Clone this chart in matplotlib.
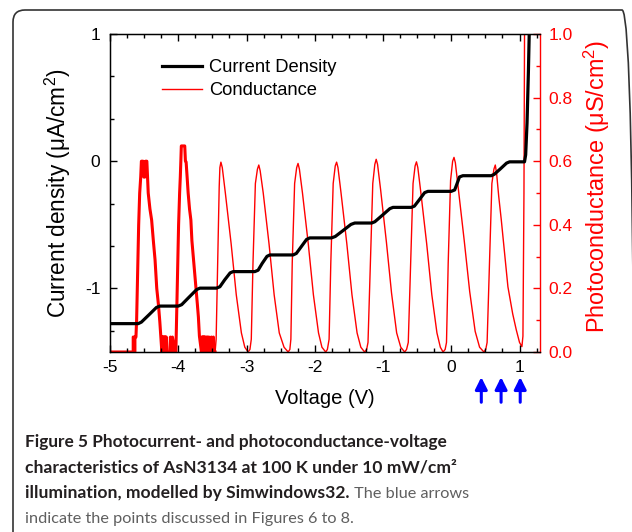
import numpy as np
import matplotlib
matplotlib.use("Agg")
import matplotlib.pyplot as plt
from matplotlib.patches import FancyBboxPatch
from matplotlib.transforms import IdentityTransform
from matplotlib.ticker import MultipleLocator

plt.rcParams['font.family'] = ['Liberation Sans', 'DejaVu Sans']
plt.rcParams['mathtext.fontset'] = 'custom'
plt.rcParams['mathtext.rm'] = 'Liberation Sans'
plt.rcParams['axes.unicode_minus'] = False

# current density (uA/cm^2) vs voltage
cur_v = [-5.00, -4.586, -4.54, -4.43, -4.32, -4.268, -4.00, -3.95, -3.84, -3.73,
         -3.683, -3.44, -3.39, -3.32, -3.24, -3.196, -2.878, -2.83, -2.77, -2.70,
         -2.658, -2.317, -2.27, -2.195, -2.12, -2.073, -1.756, -1.70, -1.585, -1.47,
         -1.414, -1.166, -1.12, -1.01, -0.90, -0.854, -0.585, -0.54, -0.464, -0.39,
         -0.342, 0.0, 0.05, 0.085, 0.12, 0.17, 0.586, 0.63, 0.72, 0.81,
         0.854, 1.073, 1.09, 1.11, 1.13, 1.15]
cur_j = [-1.277, -1.277, -1.265, -1.208, -1.150, -1.139, -1.139, -1.128, -1.068, -1.009,
         -0.998, -0.998, -0.987, -0.933, -0.878, -0.868, -0.868, -0.857, -0.803, -0.748,
         -0.737, -0.737, -0.725, -0.670, -0.615, -0.603, -0.603, -0.592, -0.545, -0.497,
         -0.486, -0.486, -0.476, -0.425, -0.373, -0.363, -0.363, -0.353, -0.300, -0.247,
         -0.237, -0.237, -0.226, -0.176, -0.124, -0.114, -0.114, -0.103, -0.060, -0.015,
         -0.005, -0.005, 0.05, 0.3, 0.7, 1.2]

# photoconductance (uS/cm^2) vs voltage
cond_v = [
    # noisy part, peaks at -4.5 and -3.93
    -5.00, -4.66, -4.66, -4.648, -4.648, -4.635, -4.635, -4.62, -4.61, -4.595,
    -4.58, -4.565, -4.55, -4.54, -4.515, -4.505, -4.49, -4.48, -4.46, -4.45,
    -4.44, -4.415, -4.39, -4.365, -4.34, -4.315, -4.29, -4.27, -4.255, -4.24,
    -4.235, -4.23, -4.225, -4.22, -4.215, -4.21, -4.205, -4.20, -4.195, -4.19,
    -4.185, -4.18, -4.175, -4.165, -4.12, -4.115, -4.09, -4.085, -4.05, -4.035,
    -4.025, -4.01, -3.995, -3.98, -3.97, -3.962, -3.955, -3.905, -3.895, -3.885,
    -3.87, -3.855, -3.835, -3.815, -3.80, -3.78, -3.76, -3.74, -3.72, -3.705,
    -3.69, -3.66, -3.655, -3.65, -3.645, -3.64, -3.635, -3.63, -3.625, -3.62,
    -3.615, -3.61, -3.605, -3.60, -3.59, -3.585, -3.575, -3.57, -3.555, -3.55,
    -3.52, -3.515, -3.49, -3.485, -3.47, -3.465,
    # regular oscillations
    -3.46, -3.445, -3.42, -3.40, -3.39, -3.375, -3.355, -3.31, -3.225, -3.15, -3.075, -3.025, -2.976,
    -2.95, -2.93, -2.905, -2.87, -2.84, -2.82, -2.80, -2.755, -2.67, -2.595, -2.52, -2.45, -2.39,
    -2.365, -2.35, -2.33, -2.295, -2.265, -2.245, -2.225, -2.18, -2.095, -2.02, -1.945, -1.895, -1.84,
    -1.815, -1.79, -1.765, -1.73, -1.70, -1.68, -1.66, -1.615, -1.53, -1.455, -1.38, -1.325, -1.27,
    -1.24, -1.22, -1.185, -1.15, -1.12, -1.10, -1.08, -1.035, -0.95, -0.875, -0.80, -0.74, -0.683,
    -0.655, -0.63, -0.595, -0.56, -0.53, -0.51, -0.49, -0.445, -0.36, -0.285, -0.21, -0.16, -0.12,
    -0.09, -0.07, -0.045, -0.01, 0.02, 0.04, 0.06, 0.105, 0.19, 0.27, 0.35, 0.415, 0.478,
    0.505, 0.525, 0.56, 0.595, 0.625, 0.645, 0.665, 0.695, 0.733, 0.83, 0.90, 0.952, 1.0, 1.035,
    1.05, 1.065, 1.075]
cond_g = [
    0.0, 0.0, 0.047, 0.047, 0.0, 0.0, 0.047, 0.047, 0.10, 0.25,
    0.40, 0.50, 0.55, 0.60, 0.60, 0.55, 0.55, 0.60, 0.60, 0.55,
    0.50, 0.45, 0.415, 0.35, 0.29, 0.20, 0.148, 0.095, 0.047, 0.0,
    0.047, 0.0, 0.047, 0.0, 0.047, 0.0, 0.047, 0.0, 0.047, 0.0,
    0.047, 0.0, 0.047, 0.0, 0.0, 0.047, 0.0, 0.047, 0.0, 0.0,
    0.10, 0.25, 0.40, 0.50, 0.55, 0.60, 0.648, 0.648, 0.60, 0.598,
    0.55, 0.50, 0.45, 0.415, 0.35, 0.30, 0.25, 0.20, 0.15, 0.11,
    0.05, 0.0, 0.047, 0.0, 0.047, 0.0, 0.047, 0.0, 0.047, 0.0,
    0.047, 0.0, 0.047, 0.0, 0.0, 0.047, 0.0, 0.047, 0.0, 0.047,
    0.0, 0.047, 0.0, 0.047, 0.0, 0.0,
    0.0, 0.04, 0.30, 0.52, 0.58, 0.597, 0.58, 0.50, 0.34, 0.18, 0.06, 0.015, 0.0,
    0.008, 0.04, 0.28, 0.53, 0.575, 0.588, 0.57, 0.50, 0.34, 0.18, 0.06, 0.015, 0.0,
    0.008, 0.04, 0.28, 0.53, 0.58, 0.593, 0.575, 0.50, 0.34, 0.18, 0.06, 0.015, 0.0,
    0.008, 0.04, 0.28, 0.53, 0.585, 0.597, 0.58, 0.50, 0.34, 0.18, 0.06, 0.015, 0.0,
    0.008, 0.03, 0.28, 0.53, 0.59, 0.606, 0.59, 0.51, 0.345, 0.185, 0.06, 0.015, 0.0,
    0.008, 0.03, 0.28, 0.53, 0.585, 0.598, 0.58, 0.50, 0.34, 0.18, 0.06, 0.015, 0.0,
    0.008, 0.03, 0.28, 0.54, 0.60, 0.612, 0.595, 0.51, 0.35, 0.19, 0.065, 0.015, 0.0,
    0.008, 0.03, 0.28, 0.53, 0.575, 0.588, 0.56, 0.49, 0.415, 0.205, 0.12, 0.07, 0.03, 0.017,
    0.05, 0.5, 1.1]

arrow_v = [0.44, 0.73, 1.01]

cur_v = np.array(cur_v)
cur_j = np.array(cur_j)
cond_v = np.array(cond_v)
cond_g = np.array(cond_g)

fig = plt.figure(figsize=(6.32, 5.32), dpi=100)
ax = fig.add_axes([110 / 632, 1 - 352 / 532, 430 / 632, 318 / 532])
ax2 = ax.twinx()
ax.set_zorder(ax2.get_zorder() + 1)
ax.patch.set_visible(False)

ax2.plot(cond_v, cond_g, color='red', lw=1.0)
noisy = cond_v <= -3.46
ax2.plot(cond_v[noisy], cond_g[noisy], color='red', lw=2.2)
l1, = ax.plot(cur_v, cur_j, color='black', lw=2.3, label='Current Density')
l2, = ax.plot([], [], color='red', lw=1.0, label='Conductance')

ax.set_xlim(-5, 1.3)
ax.set_ylim(-1.5, 1)
ax2.set_ylim(0, 1)

ax.xaxis.set_major_locator(MultipleLocator(1))
ax.xaxis.set_minor_locator(MultipleLocator(0.25))
ax.yaxis.set_major_locator(MultipleLocator(1))
ax.yaxis.set_minor_locator(MultipleLocator(1 / 3))
ax2.yaxis.set_major_locator(MultipleLocator(0.2))
ax2.yaxis.set_minor_locator(MultipleLocator(0.1))
ax2.yaxis.set_major_formatter(plt.FormatStrFormatter('%.1f'))

ax.tick_params(which='both', direction='in', top=True, right=False, labelsize=12.5, width=1)
ax.tick_params(which='major', length=5)
ax.tick_params(which='minor', length=3)
ax.tick_params(axis='y', pad=7)
ax.tick_params(axis='x', pad=6)
ax2.tick_params(which='both', direction='in', colors='red', labelsize=12.5, width=1, pad=6)
ax2.tick_params(which='major', length=5)
ax2.tick_params(which='minor', length=3)

ax.spines['right'].set_visible(False)
ax2.spines['right'].set_color('red')
for s in ['left', 'top', 'bottom']:
    ax.spines[s].set_linewidth(1)
ax2.spines['right'].set_linewidth(1)

ax.set_xlabel('Voltage (V)', fontsize=14.5, va='center')
ax.xaxis.set_label_coords(0.5, -(398 - 352) / 318)
ax.set_ylabel('Current density (μA/cm$^2$)', fontsize=16.3, va='center')
ax.yaxis.set_label_coords((58 - 110) / 430, 0.5)
ax2.set_ylabel('Photoconductance (μS/cm$^2$)', fontsize=16.8, color='red', va='center')
ax2.yaxis.set_label_coords((597 - 110) / 430, 0.52)

ax.legend(handles=[l1, l2], loc='upper left', bbox_to_anchor=(0.12, 0.92),
          frameon=False, fontsize=13.2, borderpad=0, borderaxespad=0, handlelength=2.2,
          handletextpad=0.4, labelspacing=0.3)

for v in arrow_v:
    ax.annotate('', xy=(v, -0.079), xytext=(v, -0.158),
                xycoords=('data', 'axes fraction'), textcoords=('data', 'axes fraction'),
                arrowprops=dict(arrowstyle='-|>', color='blue', lw=2.2, mutation_scale=18,
                                shrinkA=0, shrinkB=0),
                annotation_clip=False)

# rounded frame around the figure panel
frame = FancyBboxPatch((13, -30), 621, 552, boxstyle='round,pad=0,rounding_size=12',
                       transform=IdentityTransform(), fill=False, ec='#333333', lw=1.2)
fig.add_artist(frame)

cap = dict(family=['Lato', 'DejaVu Sans'])
bold_col = '#231f20'
reg_col = '#5f5f5f'
x0 = 25 / 632
ys = [1 - 447 / 532, 1 - 472.5 / 532, 1 - 498 / 532, 1 - 523.5 / 532]
fig.text(x0, ys[0], 'Figure 5 Photocurrent- and photoconductance-voltage',
         fontweight='bold', fontsize=12.4, color=bold_col, va='baseline', **cap)
fig.text(x0, ys[1], 'characteristics of AsN3134 at 100 K under 10 mW/cm²',
         fontweight='bold', fontsize=12.6, color=bold_col, va='baseline', **cap)
t3 = fig.text(x0, ys[2], 'illumination, modelled by Simwindows32.',
              fontweight='bold', fontsize=12.6, color=bold_col, va='baseline', **cap)
fig.text(x0, ys[3], 'indicate the points discussed in Figures 6 to 8.',
         color=reg_col, fontsize=11.7, va='baseline', **cap)
plt.annotate(' The blue arrows', xy=(1, 0), xycoords=t3, va='bottom', ha='left',
             color=reg_col, fontsize=11.7, **cap)

fig.savefig('out.png', dpi=100)
